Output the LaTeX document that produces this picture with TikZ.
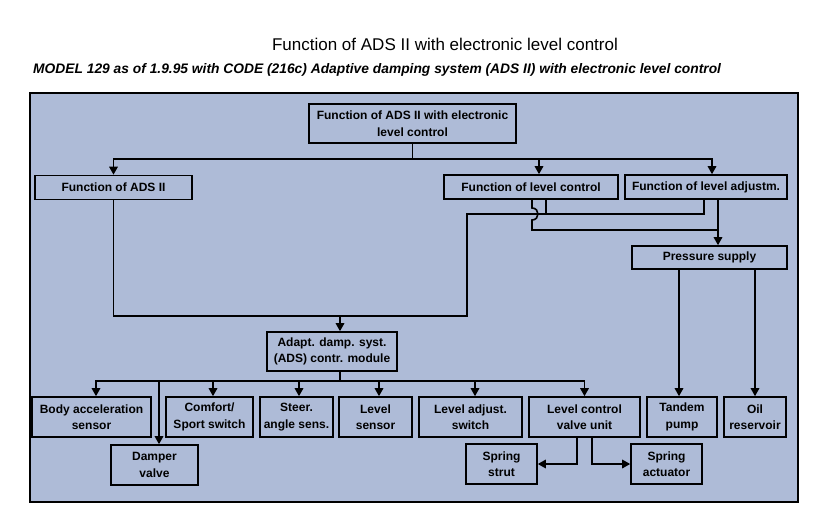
\documentclass[tikz,border=0pt]{standalone}
\usepackage{fontspec}
\setmainfont{Liberation Sans}
\usetikzlibrary{arrows.meta}
\definecolor{panel}{RGB}{174,187,215}
\begin{document}
\begin{tikzpicture}[x=1pt,y=-1pt,
  box/.style={draw,line width=1.6pt,fill=panel,inner sep=0pt,align=center,
    font=\fontsize{12}{16.5}\selectfont\bfseries},
  ln/.style={line width=1.6pt},
  arr/.style={line width=1.6pt,-{Triangle[length=8pt,width=8.5pt]}}]
\useasboundingbox (0,0) rectangle (830,514);
\fill[white] (0,0) rectangle (830,514);
\node[font=\fontsize{17}{20}\selectfont] (title) at (445,44) {Function of ADS II with electronic level control};
\node[anchor=base west,inner sep=0pt,font=\fontsize{13.8}{16}\selectfont\bfseries\itshape] (sub) at (33,73)
  {MODEL 129 as of 1.9.95 with CODE (216c) Adaptive damping system (ADS II) with electronic level control};
\node[draw,line width=1.2pt,fill=panel,minimum width=768pt,minimum height=409pt,inner sep=0pt] (panelbox) at (414,297.5) {};
% boxes
\node[box,minimum width=207pt,minimum height=39pt] (top) at (412.5,123.5) {Function of ADS II with electronic\\level control};
\node[box,minimum width=157pt,minimum height=24pt] (fads) at (113.5,187.5) {Function of ADS II};
\node[box,minimum width=174pt,minimum height=24pt] (flc) at (531,187) {Function of level control};
\node[box,minimum width=162pt,minimum height=24pt] (fla) at (706,187) {Function of level adjustm.};
\node[box,minimum width=155pt,minimum height=23pt] (ps) at (709.5,257.5) {Pressure supply};
\node[box,minimum width=130pt,minimum height=39pt] (ads) at (332,351.5) {Adapt. damp. syst.\\(ADS) contr. module};
\node[box,minimum width=119pt,minimum height=40pt] (bas) at (91.5,417) {Body acceleration\\sensor};
\node[box,minimum width=87pt,minimum height=40pt] (css) at (209.5,417) {Comfort/\\Sport switch};
\node[box,minimum width=73pt,minimum height=40pt] (sas) at (296.5,417) {Steer.\\angle sens.};
\node[box,minimum width=73pt,minimum height=40pt] (ls) at (375.5,417) {Level\\sensor};
\node[box,minimum width=103pt,minimum height=40pt] (las) at (470.5,417) {Level adjust.\\switch};
\node[box,minimum width=111pt,minimum height=40pt] (lcv) at (584.5,417) {Level control\\valve unit};
\node[box,minimum width=70pt,minimum height=40pt] (tp) at (682,417) {Tandem\\pump};
\node[box,minimum width=62pt,minimum height=40pt] (oil) at (755,417) {Oil\\reservoir};
\node[box,minimum width=87pt,minimum height=40pt] (dv) at (154.5,465) {Damper\\valve};
\node[box,minimum width=71pt,minimum height=40pt] (ss) at (501.5,464) {Spring\\strut};
\node[box,minimum width=71pt,minimum height=40pt] (sa) at (666.5,464) {Spring\\actuator};
% top bus
\coordinate (bus1) at (412.5,159);
\coordinate (flcin) at ([xshift=8pt]flc.north);
\coordinate (flain) at ([xshift=6pt]fla.north);
\draw[ln] (top.south) -- (bus1);
\draw[arr] (bus1) -| (fads.north);
\draw[arr] (bus1) -| (flcin);
\draw[arr] (bus1) -| (flain);
% to ADS module
\coordinate (j1) at (467,214);
\coordinate (j2) at (467,316);
\coordinate (flaA) at ([xshift=-2pt]fla.south);
\coordinate (flcA) at ([xshift=15pt]flc.south);
\coordinate (adsin) at ([xshift=8pt]ads.north);
\draw[ln] (flaA) |- (j1) -- (j2) -| (fads.south);
\draw[ln] (flcA) -- (flcA |- j1);
\draw[arr] (adsin |- j2) -- (adsin);
% to pressure supply
\coordinate (flaB) at ([xshift=12pt]fla.south);
\coordinate (flcB) at ([xshift=1pt]flc.south);
\coordinate (h1) at (532,208);
\coordinate (h2) at (532,220);
\coordinate (h3) at (532,230);
\coordinate (h4) at (718,230);
\draw[arr] (flaB) -- (flaB |- ps.north);
\draw[ln] (flcB) -- (h1) .. controls (540,208) and (540,220) .. (h2) -- (h3) -- (h4);
% pressure supply outputs
\coordinate (psA) at ([xshift=-30.5pt]ps.south);
\draw[arr] (psA) -- (psA |- tp.north);
\draw[arr] (oil.north |- ps.south) -- (oil.north);
% bottom bus
\coordinate (adsout) at ([xshift=8pt]ads.south);
\coordinate (bus2) at (340,381);
\coordinate (dvin) at ([xshift=4.5pt]dv.north);
\draw[ln] (adsout) -- (bus2);
\draw[arr] (bus2) -| ([xshift=4.5pt]bas.north);
\draw[arr] (bus2) -| (dvin);
\draw[arr] (bus2) -| ([xshift=3.5pt]css.north);
\draw[arr] (bus2) -| ([xshift=2.5pt]sas.north);
\draw[arr] (bus2) -| ([xshift=3.5pt]ls.north);
\draw[arr] (bus2) -| ([xshift=4.5pt]las.north);
\draw[arr] (bus2) -| (lcv.north);
% level control valve unit outputs
\coordinate (lcvA) at ([xshift=-7.5pt]lcv.south);
\coordinate (lcvB) at ([xshift=7.5pt]lcv.south);
\draw[arr] (lcvA) |- (ss.east);
\draw[arr] (lcvB) |- (sa.west);
\end{tikzpicture}
\end{document}
